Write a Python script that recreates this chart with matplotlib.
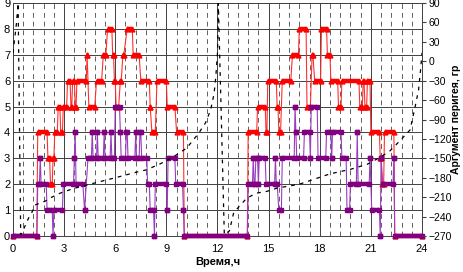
import matplotlib
matplotlib.use("Agg")
import matplotlib.pyplot as plt
import numpy as np

# ---- data ----
# red series (left axis): plateaus start, end, value
red_start = [0.0, 1.45, 2.05, 2.2, 2.35, 2.45, 2.65, 2.8, 2.95, 3.2, 3.4, 3.5, 3.65, 3.75, 4.35, 4.45, 4.9, 5.3, 5.55, 5.85, 5.95, 6.05, 6.3, 6.45, 6.7, 7.05, 7.5, 8.05, 8.15, 8.45, 9.05, 9.6, 10.05,
             13.8, 14.35, 14.85, 14.95, 15.5, 15.6, 15.8, 16.4, 16.8, 17.25, 17.55, 17.7, 18.1, 18.45, 18.65, 19.1, 19.3, 20.35, 20.55, 20.65, 20.8, 21.0, 21.55, 21.65, 21.8, 22.4]
red_end   = [1.4, 2.0, 2.15, 2.3, 2.4, 2.6, 2.75, 2.9, 3.15, 3.35, 3.45, 3.6, 3.7, 4.3, 4.35, 4.8, 5.2, 5.45, 5.8, 5.9, 6.0, 6.2, 6.35, 6.5, 7.0, 7.4, 8.0, 8.05, 8.35, 9.0, 9.5, 10.0, 13.75,
             14.3, 14.8, 14.9, 15.45, 15.55, 15.7, 16.3, 16.75, 17.2, 17.45, 17.6, 18.05, 18.4, 18.6, 19.05, 19.25, 20.3, 20.5, 20.6, 20.75, 20.95, 21.5, 21.6, 21.75, 22.35, 24.0]
red_val   = [0, 4, 3, 2, 3, 4, 5, 4, 5, 6, 5, 6, 5, 6, 7, 5, 6, 7, 8, 7, 6, 5, 6, 7, 8, 7, 6, 5, 4, 6, 5, 4, 0,
             4, 5, 4, 6, 5, 4, 6, 7, 8, 5, 7, 6, 8, 7, 6, 5, 6, 5, 6, 5, 6, 4, 3, 2, 4, 0]

# purple series (left axis)
pur_start = [0.0, 1.45, 1.6, 1.65, 2.0, 2.35, 2.4, 2.95, 3.6, 3.65, 3.7, 4.2, 4.4, 4.65, 4.7, 4.95, 5.0, 5.35, 5.4, 5.75, 5.8, 6.0, 6.3, 6.35, 6.65, 6.75, 7.2, 7.25, 7.45, 7.55, 7.9, 8.05, 8.3, 8.35, 9.05, 9.1, 9.55, 10.0, 10.05,
             13.8, 14.1, 14.15, 14.25, 14.4, 14.45, 14.85, 15.4, 15.45, 15.6, 15.8, 16.55, 16.6, 16.65, 17.1, 17.45, 17.5, 17.9, 18.4, 18.7, 18.75, 19.3, 19.6, 19.8, 20.2, 20.25, 20.95, 21.05, 21.55, 21.6, 21.7, 22.35, 22.4]
pur_end   = [1.4, 1.55, 1.6, 1.95, 2.3, 2.35, 2.9, 3.55, 3.6, 3.65, 4.1, 4.2, 4.6, 4.65, 4.9, 4.95, 5.3, 5.35, 5.7, 5.75, 5.95, 6.25, 6.3, 6.6, 6.7, 7.15, 7.2, 7.4, 7.5, 7.85, 8.0, 8.25, 8.3, 9.0, 9.05, 9.5, 9.95, 10.0, 13.75,
             14.05, 14.1, 14.2, 14.35, 14.4, 14.8, 15.35, 15.4, 15.5, 15.75, 16.5, 16.55, 16.6, 17.05, 17.4, 17.45, 17.85, 18.35, 18.65, 18.7, 19.25, 19.55, 19.75, 20.15, 20.2, 20.9, 20.95, 21.5, 21.55, 21.6, 22.3, 22.35, 24.0]
pur_val   = [0, 2, 3, 2, 1, 0, 1, 2, 3, 4, 2, 1, 3, 4, 3, 4, 3, 4, 3, 4, 3, 5, 4, 3, 4, 3, 4, 3, 4, 3, 2, 1, 0, 2, 1, 3, 2, 1, 0,
             2, 3, 2, 3, 2, 3, 2, 3, 2, 1, 3, 5, 4, 3, 4, 3, 5, 3, 4, 3, 4, 3, 1, 2, 4, 2, 3, 1, 0, 3, 2, 3, 0]

# argument of perigee (right axis)
arg_time = [0.0, 0.1, 0.2, 0.3, 0.45, 0.6, 0.9, 1.1, 1.3, 1.9, 2.2, 2.75, 3.5, 4.8, 6.0, 7.3, 7.8, 8.6, 9.4, 10.2, 10.9, 11.3, 11.6, 11.8, 11.9, 12.0, 12.05,
            12.4, 12.7, 12.95, 13.25, 13.7, 14.25, 14.9, 15.5, 16.8, 18.6, 19.8, 20.8, 21.5, 22.1, 22.7, 23.3, 23.6, 23.8, 23.9, 24.0]
arg_deg  = [13, 35, 58, 90, -268, -261, -243, -234, -222, -216, -211, -204, -197, -188, -180, -171, -168, -159, -148, -134, -111, -95, -75, -50, -24, 13, 90,
            -268, -262, -234, -225, -212, -204, -201, -196, -190, -174, -167, -159, -149, -139, -123, -106, -70, -44, -18, 13]

x_ticks = [0, 3, 6, 9, 12, 15, 18, 21, 24]
left_ticks = list(range(0, 10))
right_ticks = list(range(-270, 91, 30))

# ---- figure ----
plt.rcParams['font.family'] = ['Liberation Sans', 'DejaVu Sans']
fig = plt.figure(figsize=(4.63, 2.72), dpi=100)
ax = fig.add_axes([13/463, 1-236/272, (422-13)/463, 233/272])

ax.set_xlim(0, 24)
ax.set_ylim(0, 9)

# grid
for xv in np.arange(0.6, 24, 0.6):
    if abs(xv/3 - round(xv/3)) > 1e-6:
        ax.axvline(xv, color='#606060', lw=0.7, ls=(0, (5, 4)), zorder=0)
for xv in x_ticks:
    ax.axvline(xv, color='#404040', lw=0.7, zorder=0)
for yv in left_ticks:
    ax.axhline(yv, color='#404040', lw=0.7, zorder=0)

def draw_series(starts, ends, vals, thin_col, thick_col, marker, ms):
    xs, ys = [], []
    for s, e, v in zip(starts, ends, vals):
        xs += [s, e]
        ys += [v, v]
    ax.plot(xs, ys, color=thin_col, lw=0.8, zorder=2, clip_on=False)
    ax.hlines(vals, starts, ends, color=thick_col, lw=3.2, zorder=3, clip_on=False)
    ax.plot(xs, ys, ls='none', marker=marker, ms=ms, color=thick_col, mec=thick_col, zorder=4, clip_on=False)

draw_series(red_start, red_end, red_val, '#ff3030', '#ff0000', '^', 3.5)
draw_series(pur_start, pur_end, pur_val, '#9a3cc0', '#800080', 's', 3)

ax.set_xticks(x_ticks)
ax.set_yticks(left_ticks)
ax.tick_params(axis='both', which='both', length=0, labelsize=8, pad=2)
ax.tick_params(axis='x', pad=6)
for sp in ax.spines.values():
    sp.set_color('#404040')
    sp.set_linewidth(0.7)
ax.set_xlabel('Время,ч', fontsize=8, fontweight='bold')
ax.xaxis.set_label_coords(0.5, -(262 - 236) / 233, transform=ax.transAxes)
ax.xaxis.label.set_va('center')

ax2 = ax.twinx()
ax2.set_ylim(-270, 90)
ax2.plot(arg_time, arg_deg, color='black', lw=0.9, ls=(0, (3, 4)), zorder=5)
ax2.set_yticks(right_ticks)
ax2.tick_params(axis='y', direction='out', length=3, labelsize=7.5, pad=1.5, color='#404040')
for sp in ax2.spines.values():
    sp.set_visible(False)
ax2.set_ylabel('Аргумент перигея, гр', fontsize=7.5, fontweight='bold')
ax2.yaxis.set_label_coords((456 - 13) / 409, 0.5, transform=ax2.transAxes)
ax2.yaxis.label.set_va('center')

fig.savefig('out.png', dpi=100)
